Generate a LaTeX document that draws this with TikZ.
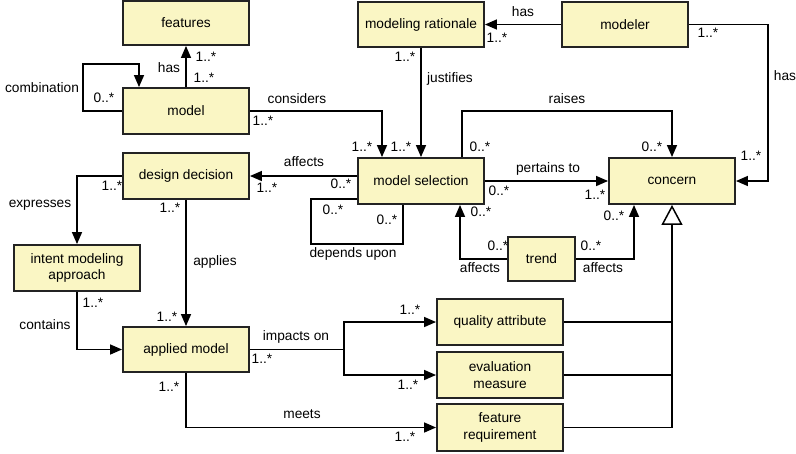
\documentclass[tikz,border=0pt]{standalone}
\usepackage{fontspec}
\setmainfont{Liberation Sans}
\usetikzlibrary{arrows.meta,calc}
\definecolor{boxfill}{RGB}{250,246,196}
\definecolor{boxline}{RGB}{35,35,35}
\begin{document}
\begin{tikzpicture}[x=1pt,y=-1pt,
  box/.style={draw=boxline,fill=boxfill,line width=1.9pt,minimum width=126pt,minimum height=46pt,inner sep=1pt,align=center,font=\fontsize{13.7}{16.5}\selectfont},
  lab/.style={inner sep=0pt,font=\fontsize{13.7}{15}\selectfont},
  conn/.style={line width=1.5pt},
  arr/.style={conn,-{Triangle[length=12pt,width=10pt]}},
  gen/.style={conn,-{Triangle[open,length=20pt,width=21pt,fill=white]}}
]
\useasboundingbox (0,0) rectangle (796,453);
% boxes
\node[box,minimum height=44pt] (features) at (186,23) {features};
\node[box] (model) at (186,111) {model};
\node[box,minimum height=45pt] (rat) at (421,24.5) {modeling rationale};
\node[box,minimum height=45pt] (modeler) at (625,24.5) {modeler};
\node[box] (concern) at (672,181) {concern};
\node[box] (dd) at (186,176) {design decision};
\node[box] (intent) at (77,268) {intent modeling\\approach};
\node[box] (ms) at (421,181) {model selection};
\node[box,minimum width=67pt,minimum height=44pt] (trend) at (541.5,259) {trend};
\node[box,minimum height=45pt] (applied) at (186,349.5) {applied model};
\node[box] (quality) at (500,322) {quality attribute};
\node[box] (eval) at (500,375) {evaluation\\measure};
\node[box,minimum height=47pt] (feature) at (500,427.5) {feature\\requirement};
% connectors
\draw[arr] (model.north) -- (features.south);
\draw[arr] (model.west) -- ++(-39,0) -- ++(0,-47) -| ([xshift=-47pt]model.north);
\draw[arr] (model.east) -| ([xshift=-39pt]ms.north);
\draw[arr] (rat.south) -- (ms.north);
\draw[arr] (modeler.west) -- (rat.east);
\draw[arr] (modeler.east) -- ++(79,0) |- (concern.east);
\draw[arr] ([xshift=41pt]ms.north) -- ++(0,-46) -| (concern.north);
\draw[arr] (ms.east) -- (concern.west);
\draw[arr] ([yshift=5pt]ms.west) -- ([yshift=5pt]ms.west -| dd.east);
\draw[conn] ([yshift=-18pt]ms.west) -- ++(-46,0) -- ++(0,45) -| ([xshift=-18pt]ms.south);
\draw[arr] (trend.west) -| ([xshift=39pt]ms.south);
\draw[arr] (trend.east) -| ([xshift=-38pt]concern.south);
\draw[arr] (dd.west) -| (intent.north);
\draw[arr] (dd.south) -- (applied.north);
\draw[arr] (intent.south) |- (applied.west);
\draw[conn] (applied.east) -- ++(94,0) coordinate (split);
\draw[arr] (split) |- (quality.west);
\draw[arr] (split) |- (eval.west);
\draw[arr] (applied.south) |- (feature.west);
\draw[gen] (feature.east) -| (concern.south);
\draw[conn] (quality.east) -- (quality.east -| concern.south);
\draw[conn] (eval.east) -- (eval.east -| concern.south);
% labels
\node[lab] (l1) at (169,68) {has};
\node[lab] (l2) at (206,57) {1..*};
\node[lab] (l3) at (204,78) {1..*};
\node[lab] (l4) at (42,88) {combination};
\node[lab] (l5) at (104,98) {0..*};
\node[lab] (l6) at (297,99) {considers};
\node[lab] (l7) at (263,121) {1..*};
\node[lab] (l8) at (362,147) {1..*};
\node[lab] (l9) at (401,147) {1..*};
\node[lab] (l10) at (405,57) {1..*};
\node[lab] (l11) at (450,79) {justifies};
\node[lab] (l12) at (523,12) {has};
\node[lab] (l13) at (497,38) {1..*};
\node[lab] (l14) at (708,33) {1..*};
\node[lab] (l15) at (785,76) {has};
\node[lab] (l16) at (751,156) {1..*};
\node[lab] (l17) at (567,99) {raises};
\node[lab] (l18) at (480,147) {0..*};
\node[lab] (l19) at (652,147) {0..*};
\node[lab] (l20) at (548,169) {pertains to};
\node[lab] (l21) at (499,191) {0..*};
\node[lab] (l22) at (595,195) {1..*};
\node[lab] (l23) at (304,162) {affects};
\node[lab] (l24) at (341,184) {0..*};
\node[lab] (l25) at (267,188) {1..*};
\node[lab] (l26) at (333,210) {0..*};
\node[lab] (l27) at (387,220) {0..*};
\node[lab] (l28) at (353,254) {depends upon};
\node[lab] (l29) at (498,246) {0..*};
\node[lab] (l30) at (480,268) {affects};
\node[lab] (l31) at (481,212) {0..*};
\node[lab] (l32) at (591,246) {0..*};
\node[lab] (l33) at (603,268) {affects};
\node[lab] (l34) at (614,216) {0..*};
\node[lab] (l35) at (112,186) {1..*};
\node[lab] (l36) at (40,205) {expresses};
\node[lab] (l37) at (170,208) {1..*};
\node[lab] (l38) at (215,262) {applies};
\node[lab] (l39) at (167,317) {1..*};
\node[lab] (l40) at (93,303) {1..*};
\node[lab] (l41) at (45,325) {contains};
\node[lab] (l42) at (296,337) {impacts on};
\node[lab] (l43) at (262,359) {1..*};
\node[lab] (l44) at (410,310) {1..*};
\node[lab] (l45) at (408,385) {1..*};
\node[lab] (l46) at (169,387) {1..*};
\node[lab] (l47) at (302,414) {meets};
\node[lab] (l48) at (405,437) {1..*};
\end{tikzpicture}
\end{document}
